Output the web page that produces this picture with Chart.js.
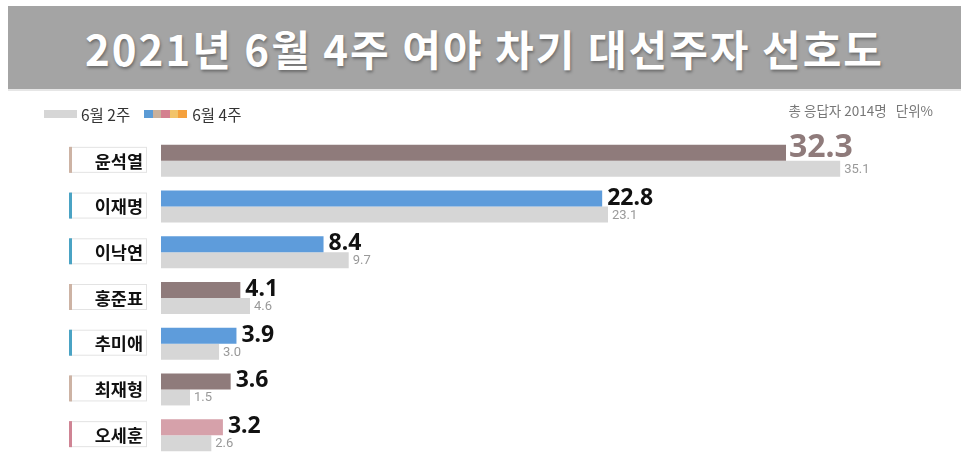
<!DOCTYPE html>
<html>
<head>
<meta charset="utf-8">
<script src="https://cdn.jsdelivr.net/npm/chart.js@4"></script>
<style>
  body { margin: 0; background: #fff; font-family: "Noto Sans CJK KR", "Noto Sans", sans-serif; }
  #wrap { position: relative; width: 969px; height: 458px; overflow: hidden; }
  #title {
    position: absolute; left: 8px; top: 6px; width: 953px; height: 83px;
    background: #a4a4a4; color: #fff; font-weight: bold; font-size: 42px;
    text-align: center; line-height: 83px; letter-spacing: 2px;
    text-shadow: 1px 2px 3px rgba(0,0,0,0.35);
  }
  #rule { position: absolute; left: 8px; top: 89px; width: 953px; height: 2px; background: #e6e6e6; }
  #legend { position: absolute; left: 44px; top: 100px; font-size: 15.5px; color: #333; }
  #legend span { display: inline-block; vertical-align: middle; }
  .sw { width: 33px; height: 8px; background: #d6d6d6; margin-right: 4px; }
  .multi { width: 43px; height: 8px; margin: 0 5px 0 14px;
    background: linear-gradient(to right, #5b9bd5 0 20%, #c9b09a 20% 40%, #d4808f 40% 60%, #f2c46a 60% 80%, #f5a13d 80% 100%); }
  #note { position: absolute; right: 36px; top: 100px; font-size: 13.5px; color: #777; }
  #chartBox { position: absolute; left: 0; top: 0; width: 969px; height: 458px; }
</style>
</head>
<body>
<div id="wrap">
  <div id="chartBox"><canvas id="chart1"></canvas></div>
  <div id="title">2021년 6월 4주 여야 차기 대선주자 선호도</div>
  <div id="rule"></div>
  <div id="legend"><span class="sw"></span><span>6월 2주</span><span class="multi"></span><span>6월 4주</span></div>
  <div id="note">총 응답자 2014명&nbsp;&nbsp; 단위%</div>
</div>
<script>
//----------------- data -------------------------
const candidates = ["윤석열", "이재명", "이낙연", "홍준표", "추미애", "최재형", "오세훈"];
const week4 = [32.3, 22.8, 8.4, 4.1, 3.9, 3.6, 3.2];
const week2 = [35.1, 23.1, 9.7, 4.6, 3.0, 1.5, 2.6];

// bar colours and the little stripe on each name box
const barColors = ["#8f7b7b", "#5e9cdb", "#5e9cdb", "#8f7b7b", "#5e9cdb", "#8f7b7b", "#d6a1aa"];
const stripeColors = ["#cdb3a4", "#4aa3c4", "#4aa3c4", "#cdb3a4", "#4aa3c4", "#cdb3a4", "#cf8494"];

//----------------- name boxes on the left ----------------
const nameBoxes = {
    id: "nameBoxes",
    afterDraw(chart) {
        const ctx = chart.ctx;
        const y = chart.scales.y;
        ctx.save();
        candidates.forEach((name, i) => {
            const cy = y.getPixelForValue(i) - 1;
            ctx.fillStyle = "#fff";
            ctx.strokeStyle = "#e3e3e3";
            ctx.lineWidth = 1;
            ctx.fillRect(70, cy - 13, 77, 26);
            ctx.strokeRect(70.5, cy - 12.5, 76, 25);
            ctx.fillStyle = stripeColors[i];
            ctx.fillRect(69, cy - 13, 3, 26);
            ctx.fillStyle = "#111";
            ctx.font = "bold 17.5px 'Noto Sans CJK KR'";
            ctx.textAlign = "right";
            ctx.textBaseline = "middle";
            ctx.fillText(name, 143, cy + 1);
        });
        ctx.restore();
    }
};

//----------------- value labels ----------------
const valueLabels = {
    id: "valueLabels",
    afterDatasetsDraw(chart) {
        const ctx = chart.ctx;
        ctx.save();
        ctx.textAlign = "left";
        ctx.textBaseline = "alphabetic";
        chart.getDatasetMeta(0).data.forEach((bar, i) => {
            const bottom = bar.y + bar.height / 2;
            if (i === 0) {
                ctx.font = "bold 32px 'Noto Sans'";
                ctx.fillStyle = "#8f7b7b";
                ctx.fillText(week4[i].toFixed(1), bar.x + 3, bottom - 4);
            } else {
                ctx.font = "bold 23px 'Noto Sans'";
                ctx.fillStyle = "#111";
                ctx.fillText(week4[i].toFixed(1), bar.x + 5, bottom - 2);
            }
        });
        ctx.font = "13px Roboto";
        ctx.fillStyle = "#999";
        chart.getDatasetMeta(1).data.forEach((bar, i) => {
            const bottom = bar.y + bar.height / 2;
            ctx.fillText(week2[i].toFixed(1), bar.x + 4, bottom - 4);
        });
        ctx.restore();
    }
};

const data = {
    labels: candidates,
    datasets: [
        { label: "6월 4주", data: week4, backgroundColor: barColors },
        { label: "6월 2주", data: week2, backgroundColor: "#d6d6d6" }
    ]
};

const config = {
    type: "bar",
    data: data,
    options: {
        indexAxis: "y",
        responsive: true,
        maintainAspectRatio: false,
        animation: false,
        layout: { padding: { left: 161, right: 34, top: 138, bottom: 0 } },
        datasets: { bar: { categoryPercentage: 0.7, barPercentage: 1.0 } },
        scales: {
            x: { display: false, min: 0, max: 40 },
            y: { display: false }
        },
        plugins: { legend: { display: false }, tooltip: { enabled: false } }
    },
    plugins: [nameBoxes, valueLabels]
};

const myChart = new Chart(document.getElementById("chart1").getContext("2d"), config);
</script>
</body>
</html>
